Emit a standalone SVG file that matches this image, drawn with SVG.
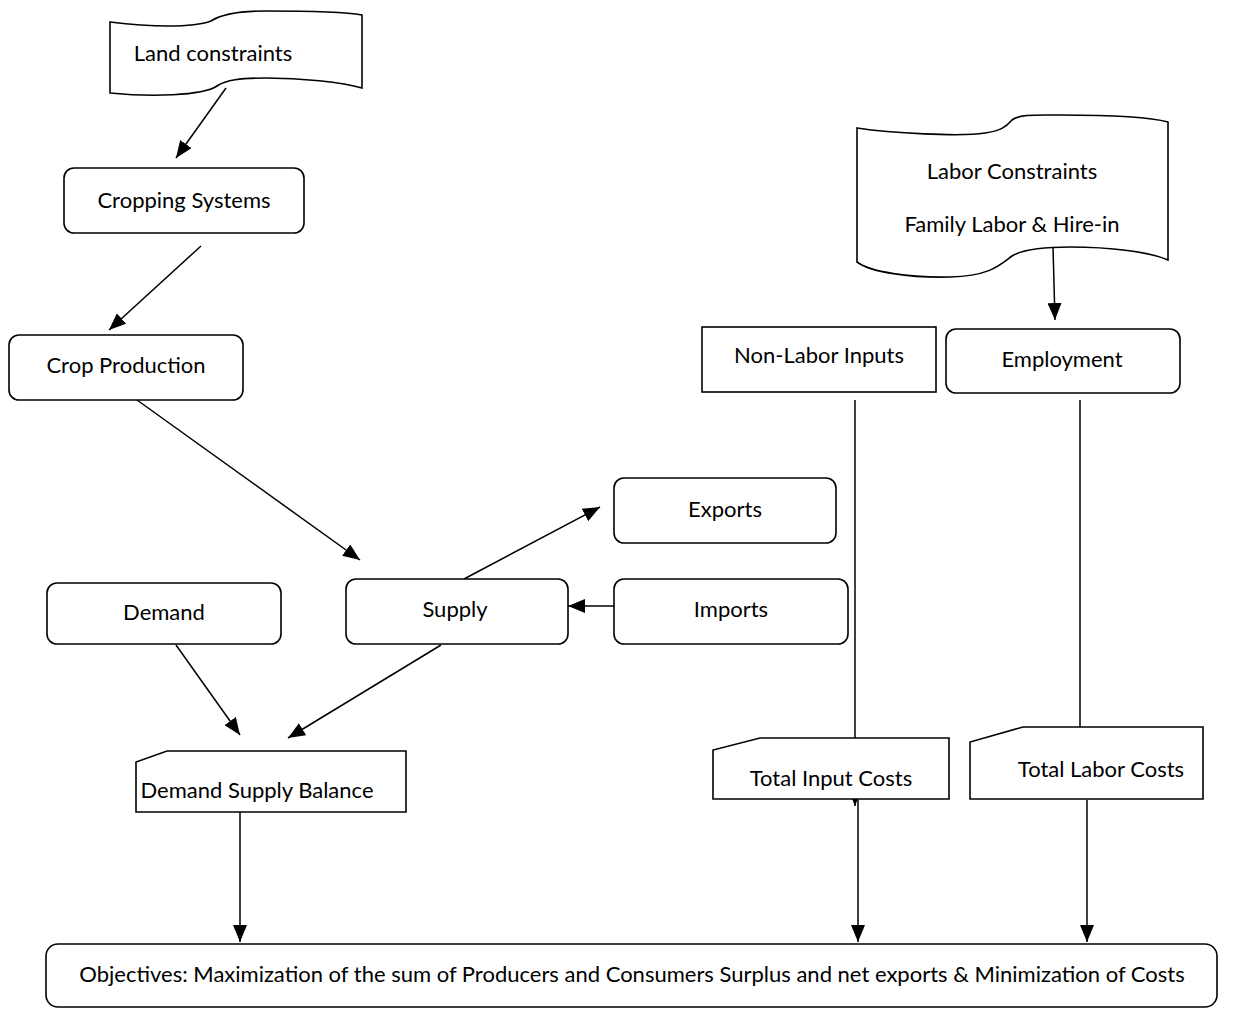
<svg xmlns="http://www.w3.org/2000/svg" width="1233" height="1009" viewBox="0 0 1233 1009">
  <defs>
    <marker id="arr" markerWidth="17" markerHeight="14" refX="17" refY="7" orient="auto" markerUnits="userSpaceOnUse">
      <path d="M0,0 L17,7 L0,14 Z" fill="#000"/>
    </marker>
    <style>
      .box { fill: #fff; stroke: #000; stroke-width: 1.6; }
      .lbl { font-family: Lato, "Liberation Sans", sans-serif; font-size: 22px; fill: #000; text-anchor: middle; dominant-baseline: central; }
      .edge { stroke: #000; stroke-width: 1.5; fill: none; }
      .arrow { marker-end: url(#arr); }
    </style>
  </defs>
  <rect width="1233" height="1009" fill="#fff"/>

  <g id="connectors">
    <line class="edge arrow" x1="226" y1="88" x2="176" y2="158"/>
    <line class="edge arrow" x1="201" y1="246" x2="109" y2="330"/>
    <line class="edge arrow" x1="137" y1="400" x2="360" y2="560"/>
    <line class="edge arrow" x1="464" y1="579" x2="600" y2="507"/>
    <line class="edge arrow" x1="614" y1="606" x2="568" y2="606"/>
    <line class="edge arrow" x1="441" y1="645" x2="288" y2="738"/>
    <line class="edge arrow" x1="176" y1="645" x2="240" y2="735"/>
    <line class="edge arrow" x1="1053" y1="247" x2="1055" y2="320"/>
    <line class="edge arrow" x1="855" y1="400" x2="855" y2="806"/>
    <line class="edge" x1="1080" y1="400" x2="1080" y2="727"/>
    <line class="edge arrow" x1="240" y1="812" x2="240" y2="942"/>
    <line class="edge arrow" x1="858" y1="800" x2="858" y2="942"/>
    <line class="edge arrow" x1="1087" y1="800" x2="1087" y2="942"/>
  </g>

  <g id="land-constraints">
    <path class="box" d="M110,22 C150,27 192,28 211,21 C222,14 240,11 265,11 C312,11 346,12 362,15 L362,88 C342,82 300,78 266,78 C240,78 226,80 217,86 C202,96 150,97 110,93 Z"/>
    <text class="lbl" x="213" y="52">Land constraints</text>
  </g>

  <g id="cropping-systems">
    <rect class="box" x="64" y="168" width="240" height="65" rx="10"/>
    <text class="lbl" x="184" y="199">Cropping Systems</text>
  </g>

  <g id="crop-production">
    <rect class="box" x="9" y="335" width="234" height="65" rx="10"/>
    <text class="lbl" x="126" y="364">Crop Production</text>
  </g>

  <g id="labor-constraints">
    <path class="box" d="M857,128 C890,133 960,137 985,133 C1000,131 1006,127 1012,120 C1020,114 1035,115 1060,115 C1110,115 1150,117 1168,122 L1168,260 C1150,252 1110,247 1070,247 C1035,247 1020,251 1012,256 C1000,265 990,276 950,277 C910,278 870,272 857,262 Z"/>
    <text class="lbl" x="1012" y="170">Labor Constraints</text>
    <text class="lbl" x="1012" y="223">Family Labor &amp; Hire-in</text>
  </g>

  <g id="non-labor-inputs">
    <rect class="box" x="702" y="327" width="234" height="65"/>
    <text class="lbl" x="819" y="354">Non-Labor Inputs</text>
  </g>

  <g id="employment">
    <rect class="box" x="946" y="329" width="234" height="64" rx="10"/>
    <text class="lbl" x="1062" y="358">Employment</text>
  </g>

  <g id="exports">
    <rect class="box" x="614" y="478" width="222" height="65" rx="10"/>
    <text class="lbl" x="725" y="508">Exports</text>
  </g>

  <g id="imports">
    <rect class="box" x="614" y="579" width="234" height="65" rx="10"/>
    <text class="lbl" x="731" y="608">Imports</text>
  </g>

  <g id="supply">
    <rect class="box" x="346" y="579" width="222" height="65" rx="10"/>
    <text class="lbl" x="455" y="608">Supply</text>
  </g>

  <g id="demand">
    <rect class="box" x="47" y="583" width="234" height="61" rx="10"/>
    <text class="lbl" x="164" y="611">Demand</text>
  </g>

  <g id="demand-supply-balance">
    <path class="box" d="M167,751 L406,751 L406,812 L136,812 L136,762 Z"/>
    <text class="lbl" x="257" y="789">Demand Supply Balance</text>
  </g>

  <g id="total-input-costs">
    <path class="box" d="M760,738 L949,738 L949,799 L713,799 L713,750 Z"/>
    <text class="lbl" x="831" y="777">Total Input Costs</text>
  </g>

  <g id="total-labor-costs">
    <path class="box" d="M1023,727 L1203,727 L1203,799 L970,799 L970,742 Z"/>
    <text class="lbl" x="1101" y="768">Total Labor Costs</text>
  </g>

  <g id="objectives">
    <rect class="box" x="46" y="944" width="1171" height="63" rx="12"/>
    <text class="lbl" x="632" y="973">Objectives: Maximization of the sum of Producers and Consumers Surplus and net exports &amp; Minimization of Costs</text>
  </g>
</svg>
